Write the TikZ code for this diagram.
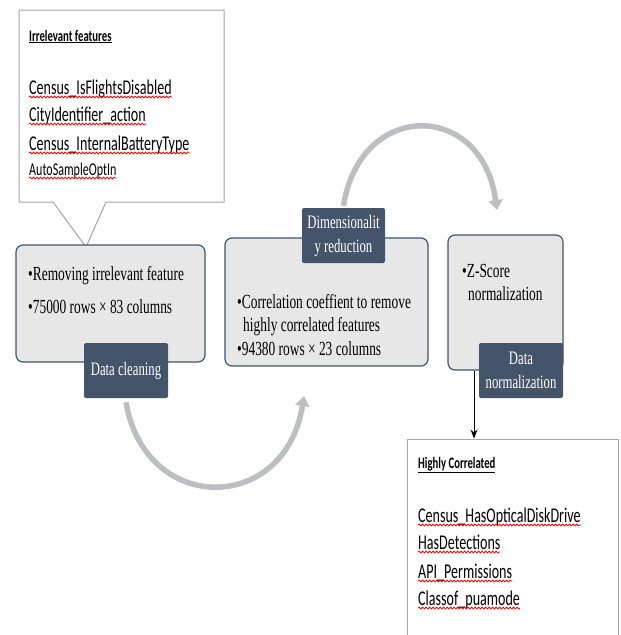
\documentclass[tikz,border=0pt]{standalone}
\usepackage{fontspec}
\setmainfont{Liberation Serif}[FakeStretch=0.67]
\newfontfamily\calfont{Carlito}[FakeStretch=0.67]
\usetikzlibrary{arrows.meta,decorations.pathmorphing}

\definecolor{slate}{HTML}{44546A}
\definecolor{boxgray}{HTML}{E7E7E7}
\definecolor{arcgray}{HTML}{BDBEC2}
\definecolor{calloutgray}{HTML}{A5A5A5}

\tikzset{
  stage/.style={draw=slate, fill=boxgray, rounded corners=7, line width=1.2},
  tag/.style={fill=slate, text=white, rounded corners=2, align=center, inner sep=0,
    font=\fontsize{19}{24}\selectfont},
  item/.style={anchor=base west, inner sep=0, font=\fontsize{20}{24}\selectfont},
  feat/.style={anchor=base west, inner sep=0, font=\calfont\fontsize{21}{25}\selectfont},
  feattitle/.style={anchor=base west, inner sep=0, font=\calfont\bfseries\fontsize{16}{19}\selectfont},
  spell/.style={red, line width=0.8, decorate, decoration={snake, amplitude=0.9, segment length=3.5}},
  flow/.style={arcgray, line width=5.5, -{Triangle[width=14,length=10]}},
}

\begin{document}
\begin{tikzpicture}[x=1pt,y=-1pt]
  \clip (0,0) rectangle (621,635);

  % callout with irrelevant features
  \draw[calloutgray, fill=white, line width=1]
    (19,10) -- (224,10) -- (224,202) -- (106,202) -- (86,247) -- (53,202) -- (19,202) -- cycle;
  \node[feattitle] (irrtitle) at (29,41) {\underline{Irrelevant features}};
  \foreach \name/\yy/\i in {Census\_IsFlightsDisabled/94/1, CityIdentifier\_action/121/2,
      Census\_InternalBatteryType/150/3}{
    \node[feat] (irr\i) at (29,\yy) {\name};
    \draw[spell] ([yshift=-3]irr\i.base west) -- ([yshift=-3]irr\i.base east);
  }
  \node[feat, font=\calfont\fontsize{18}{21}\selectfont] (irr4) at (29,175) {AutoSampleOptIn};
  \draw[spell] ([yshift=-3]irr4.base west) -- ([yshift=-3]irr4.base east);

  % the three stages
  \node[stage, minimum width=189, minimum height=117] (clean) at (110.5,303.5) {};
  \node[stage, minimum width=203, minimum height=128] (dimred) at (326.5,302) {};
  \node[stage, minimum width=115, minimum height=135] (norm) at (505.5,302.5) {};

  \node[item] (clean1) at (28,280) {\textbullet Removing irrelevant feature};
  \node[item] (clean2) at (28,313) {\textbullet 75000 rows × 83 columns};
  \node[item] (dimred1) at (237,308) {\textbullet Correlation coeffient to remove};
  \node[item] (dimred2) at (243,331) {highly correlated features};
  \node[item] (dimred3) at (237,355) {\textbullet 94380 rows × 23 columns};
  \node[item] (norm1) at (462,277) {\textbullet Z-Score};
  \node[item] (norm2) at (468,300) {normalization};

  \node[tag, minimum width=84, minimum height=55] (cleantag) at (126,370.5) {Data cleaning};
  \node[tag, minimum width=83, minimum height=55] (dimtag) at (343.5,235.5) {Dimensionalit\\y reduction};
  \node[tag, minimum width=84, minimum height=55] (normtag) at (521,370.5) {Data\\normalization};

  % curved flow arrows
  \coordinate (in2) at (304,396);
  \coordinate (in3) at (497,210);
  \draw[flow] ([yshift=-4]cleantag.south) .. controls (145,515) and (285,515) .. (in2);
  \draw[flow] ([yshift=2]dimtag.north) .. controls (360,100) and (482,100) .. (in3);

  % highly correlated features (runs past the lower edge)
  \node[draw=calloutgray, line width=1, minimum width=211, minimum height=215] (corr) at (512.5,546.5) {};
  \node[feattitle] (corrtitle) at (418,468) {\underline{Highly Correlated}};
  \foreach \name/\yy/\i in {Census\_HasOpticalDiskDrive/522/1, HasDetections/549/2,
      API\_Permissions/578/3, Classof\_puamode/605/4}{
    \node[feat] (corr\i) at (418,\yy) {\name};
    \draw[spell] ([yshift=-3]corr\i.base west) -- ([yshift=-3]corr\i.base east);
  }

  \coordinate (drop) at (474,370);
  \draw[line width=1, -{Stealth[length=9,width=7]}] (norm.south -| drop) -- (corr.north -| drop);
\end{tikzpicture}
\end{document}
